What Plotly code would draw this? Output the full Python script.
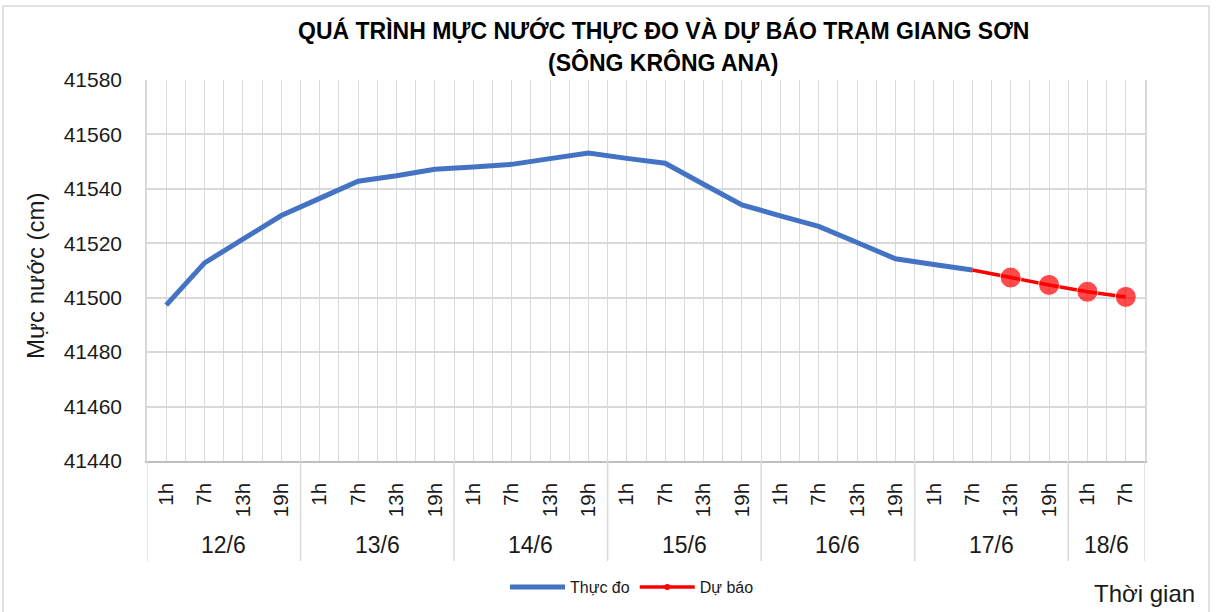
import plotly.graph_objects as go

# ---- data ----
hour_labels = ["1h", "7h", "13h", "19h"] * 6 + ["1h", "7h"]
day_labels = (["12/6"] * 4 + ["13/6"] * 4 + ["14/6"] * 4 + ["15/6"] * 4 +
              ["16/6"] * 4 + ["17/6"] * 4 + ["18/6"] * 2)
observed = [41497.3, 41512.8, 41521.5, 41530.2, 41536.5, 41542.8, 41544.8, 41547.2,
            41548.0, 41549.0, 41551.1, 41553.2, 41551.2, 41549.4, 41541.7, 41534.1,
            41530.1, 41526.2, 41520.3, 41514.3, 41512.2, 41510.2]
forecast_start = 21
forecast = [41510.2, 41507.4, 41504.7, 41502.2, 41500.3]
y_ticks = [41440, 41460, 41480, 41500, 41520, 41540, 41560, 41580]

x_idx = list(range(len(hour_labels)))
obs_x = x_idx[:len(observed)]
fc_x = x_idx[forecast_start:forecast_start + len(forecast)]

# geometry helpers (pixels -> paper)
W, H = 1217, 612
L, R, T, B = 147, 1145, 80, 461
def px(xp):
    return (xp - L) / (R - L)
def py(yp):
    return (B - yp) / (B - T)

FONT = "Liberation Sans, Arial, sans-serif"
TXT = "#1a1a1a"
GRID = "#d9d9d9"

fig = go.Figure()
fig.add_trace(go.Scatter(
    x=obs_x, y=observed, mode="lines", name="Thực đo",
    line=dict(color="#4472C4", width=5), showlegend=True))
fig.add_trace(go.Scatter(
    x=fc_x, y=forecast, mode="lines+markers", name="Dự báo",
    line=dict(color="#FF0000", width=3.5),
    marker=dict(color="#FF0000", size=[0] + [21] * (len(forecast) - 1)),
    showlegend=False))
# legend entry for forecast (small marker like the reference)
fig.add_trace(go.Scatter(
    x=[None], y=[None], mode="lines+markers", name="Dự báo",
    line=dict(color="#FF0000", width=3.5), marker=dict(color="#FF0000", size=6)))

# date groups
groups = []
for i, d in enumerate(day_labels):
    if not groups or groups[-1][0] != d:
        groups.append([d, i, i])
    else:
        groups[-1][2] = i

shapes = []
bounds = [g[1] - 0.5 for g in groups] + [groups[-1][2] + 0.5]
for b in bounds:
    shapes.append(dict(type="line", xref="x", yref="paper", x0=b, x1=b,
                       y0=0, y1=py(561), line=dict(color=GRID, width=1.5)))
# chart area border
shapes.append(dict(type="rect", xref="paper", yref="paper",
                   x0=px(3), x1=px(1209), y0=py(640), y1=py(6),
                   line=dict(color=GRID, width=1.5), fillcolor="rgba(0,0,0,0)"))

annotations = []
for d, a, b in groups:
    annotations.append(dict(text=d, x=(a + b) / 2, xref="x", y=py(545), yref="paper",
                            showarrow=False, font=dict(family=FONT, size=23, color=TXT),
                            xanchor="center", yanchor="middle"))
annotations += [
    dict(text="<b>QUÁ TRÌNH MỰC NƯỚC THỰC ĐO VÀ DỰ BÁO TRẠM GIANG SƠN</b>",
         x=px(663), y=py(30), xref="paper", yref="paper", showarrow=False,
         font=dict(family=FONT, size=23, color="#000000"), xanchor="center", yanchor="middle"),
    dict(text="<b>(SÔNG KRÔNG ANA)</b>",
         x=px(663), y=py(63), xref="paper", yref="paper", showarrow=False,
         font=dict(family=FONT, size=23, color="#000000"), xanchor="center", yanchor="middle"),
    dict(text="Mực nước (cm)", x=px(35), y=py(276), xref="paper", yref="paper",
         showarrow=False, textangle=-90, font=dict(family=FONT, size=24, color=TXT),
         xanchor="center", yanchor="middle"),
    dict(text="Thời gian", x=px(1144), y=py(593), xref="paper", yref="paper",
         showarrow=False, font=dict(family=FONT, size=24, color=TXT),
         xanchor="center", yanchor="middle"),
]

fig.update_layout(
    width=W, height=H,
    margin=dict(l=L, r=W - R, t=T, b=H - B, pad=0),
    paper_bgcolor="white", plot_bgcolor="white",
    showlegend=True,
    legend=dict(orientation="h", xref="paper", x=px(632), xanchor="center",
                yref="container", y=(H - 587) / H, yanchor="middle",
                font=dict(family=FONT, size=16, color=TXT), itemwidth=55,
                bgcolor="rgba(0,0,0,0)"),
    shapes=shapes, annotations=annotations,
    xaxis=dict(range=[-0.5, len(hour_labels) - 0.5], tickmode="array",
               tickvals=x_idx, ticktext=hour_labels, tickangle=-90,
               tickfont=dict(family=FONT, size=20.5, color=TXT),
               ticks="", ticklabelstandoff=12,
               showgrid=True, gridcolor=GRID, gridwidth=1,
               minor=dict(tickmode="linear", tick0=-0.5, dtick=1, showgrid=True,
                          gridcolor=GRID, gridwidth=1),
               showline=True, linecolor="#bfbfbf", linewidth=1.5, zeroline=False,
               fixedrange=True),
    yaxis=dict(range=[y_ticks[0], y_ticks[-1]], tickmode="array", tickvals=y_ticks,
               ticktext=[str(v) for v in y_ticks],
               tickfont=dict(family=FONT, size=21, color=TXT), ticks="",
               ticklabelstandoff=19, showgrid=True, gridcolor=GRID, gridwidth=1.5,
               showline=True, mirror=True, linecolor=GRID, linewidth=1.5,
               zeroline=False, fixedrange=True),
)

fig.write_html("out.html", config={"displayModeBar": False},
               post_script="document.body.style.margin='0px';")
